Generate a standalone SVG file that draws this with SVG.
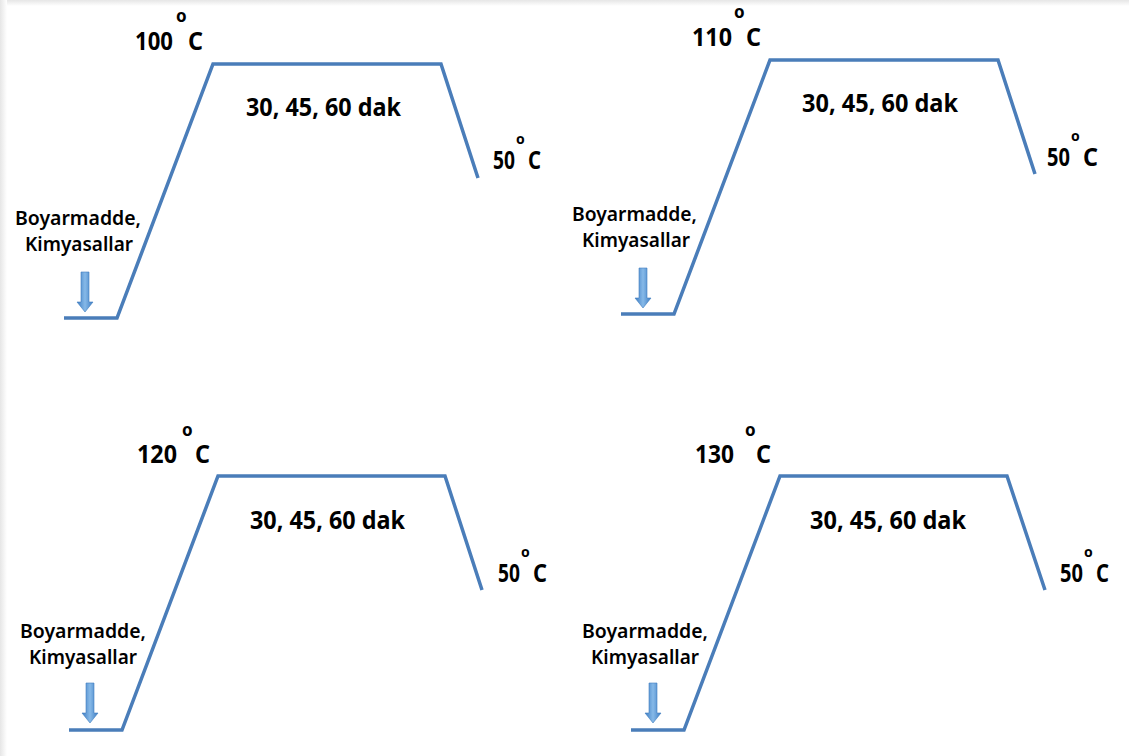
<svg xmlns="http://www.w3.org/2000/svg" width="1129" height="756" viewBox="0 0 1129 756">
  <style>
    .curve { fill: none; stroke: #4a7db9; stroke-width: 3.5; stroke-linejoin: miter; stroke-linecap: butt; }
    .t { font-family: "Noto Sans", "Open Sans", "Liberation Sans", sans-serif; font-weight: 700; fill: #000000; }
    .temp { font-size: 25px; }
    .deg { font-size: 17px; }
    .deg-s { font-size: 14px; }
    .time { font-size: 25px; }
    .add { font-size: 20px; font-weight: 600; }
  </style>
  <defs>
    <linearGradient id="arrowFill" x1="0" y1="0" x2="1" y2="0">
      <stop offset="0" stop-color="#3d7cc2"/>
      <stop offset="0.5" stop-color="#86b9e8"/>
      <stop offset="1" stop-color="#3d7cc2"/>
    </linearGradient>
    <linearGradient id="edgeTop" x1="0" y1="0" x2="0" y2="1">
      <stop offset="0" stop-color="#e6e6e6"/>
      <stop offset="1" stop-color="#ffffff"/>
    </linearGradient>
    <linearGradient id="edgeLeft" x1="0" y1="0" x2="1" y2="0">
      <stop offset="0" stop-color="#e6e6e6"/>
      <stop offset="1" stop-color="#ffffff"/>
    </linearGradient>
    <!-- dosing arrow, tip at (0,0) -->
    <path id="dose" d="M -4 -40 L 4 -40 L 4 -10 L 8 -10 L 0 0 L -8 -10 L -4 -10 Z" fill="url(#arrowFill)" stroke="#3f7dc0" stroke-width="0.6"/>
  </defs>

  <rect x="0" y="0" width="1129" height="756" fill="#ffffff"/>
  <rect x="0" y="0" width="1129" height="6" fill="url(#edgeTop)"/>
  <rect x="0" y="0" width="7" height="756" fill="url(#edgeLeft)"/>

  <!-- temperature profiles -->
  <g id="connectors">
    <path class="curve" d="M 64 318 L 117 318 L 213 64 L 441 64 L 478 178"/>
    <path class="curve" d="M 621 314 L 674 314 L 770 60 L 998 60 L 1035 174"/>
    <path class="curve" d="M 69 730 L 122 730 L 218 476 L 445 476 L 482 590"/>
    <path class="curve" d="M 631 730 L 684 730 L 780 476 L 1007 476 L 1045 590"/>
    <use href="#dose" x="85" y="312"/>
    <use href="#dose" x="643" y="308"/>
    <use href="#dose" x="90" y="723"/>
    <use href="#dose" x="653" y="723"/>
  </g>

  <!-- 100 °C -->
  <g id="panel-100">
    <text class="t temp"><tspan x="135" y="50" textLength="38" lengthAdjust="spacingAndGlyphs">100</tspan><tspan class="deg" x="176" y="22">o</tspan><tspan x="188" y="50" textLength="15" lengthAdjust="spacingAndGlyphs">C</tspan></text>
    <text class="t time" x="246" y="116" textLength="155" lengthAdjust="spacingAndGlyphs">30, 45, 60 dak</text>
    <text class="t temp"><tspan x="493" y="169" textLength="22" lengthAdjust="spacingAndGlyphs">50</tspan><tspan class="deg-s" x="516" y="144">o</tspan><tspan x="528" y="169" textLength="13" lengthAdjust="spacingAndGlyphs">C</tspan></text>
    <text class="t add" x="15" y="225" textLength="126" lengthAdjust="spacingAndGlyphs">Boyarmadde,</text>
    <text class="t add" x="25" y="251" textLength="108" lengthAdjust="spacingAndGlyphs">Kimyasallar</text>
  </g>

  <!-- 110 °C -->
  <g id="panel-110">
    <text class="t temp"><tspan x="692" y="46" textLength="40" lengthAdjust="spacingAndGlyphs">110</tspan><tspan class="deg" x="734" y="18">o</tspan><tspan x="746" y="46" textLength="15" lengthAdjust="spacingAndGlyphs">C</tspan></text>
    <text class="t time" x="802" y="112" textLength="156" lengthAdjust="spacingAndGlyphs">30, 45, 60 dak</text>
    <text class="t temp"><tspan x="1047" y="166" textLength="23" lengthAdjust="spacingAndGlyphs">50</tspan><tspan class="deg-s" x="1071" y="141">o</tspan><tspan x="1083" y="166" textLength="15" lengthAdjust="spacingAndGlyphs">C</tspan></text>
    <text class="t add" x="572" y="221" textLength="125" lengthAdjust="spacingAndGlyphs">Boyarmadde,</text>
    <text class="t add" x="582" y="247" textLength="108" lengthAdjust="spacingAndGlyphs">Kimyasallar</text>
  </g>

  <!-- 120 °C -->
  <g id="panel-120">
    <text class="t temp"><tspan x="137" y="463" textLength="40" lengthAdjust="spacingAndGlyphs">120</tspan><tspan class="deg" x="182" y="436">o</tspan><tspan x="195" y="463" textLength="15" lengthAdjust="spacingAndGlyphs">C</tspan></text>
    <text class="t time" x="250" y="529" textLength="155" lengthAdjust="spacingAndGlyphs">30, 45, 60 dak</text>
    <text class="t temp"><tspan x="498" y="582" textLength="22" lengthAdjust="spacingAndGlyphs">50</tspan><tspan class="deg-s" x="521" y="557">o</tspan><tspan x="533" y="582" textLength="14" lengthAdjust="spacingAndGlyphs">C</tspan></text>
    <text class="t add" x="20" y="638" textLength="126" lengthAdjust="spacingAndGlyphs">Boyarmadde,</text>
    <text class="t add" x="29" y="664" textLength="108" lengthAdjust="spacingAndGlyphs">Kimyasallar</text>
  </g>

  <!-- 130 °C -->
  <g id="panel-130">
    <text class="t temp"><tspan x="695" y="463" textLength="39" lengthAdjust="spacingAndGlyphs">130</tspan><tspan class="deg" x="745" y="436">o</tspan><tspan x="756" y="463" textLength="15" lengthAdjust="spacingAndGlyphs">C</tspan></text>
    <text class="t time" x="810" y="529" textLength="156" lengthAdjust="spacingAndGlyphs">30, 45, 60 dak</text>
    <text class="t temp"><tspan x="1060" y="582" textLength="23" lengthAdjust="spacingAndGlyphs">50</tspan><tspan class="deg-s" x="1084" y="557">o</tspan><tspan x="1096" y="582" textLength="13" lengthAdjust="spacingAndGlyphs">C</tspan></text>
    <text class="t add" x="582" y="638" textLength="126" lengthAdjust="spacingAndGlyphs">Boyarmadde,</text>
    <text class="t add" x="591" y="664" textLength="108" lengthAdjust="spacingAndGlyphs">Kimyasallar</text>
  </g>
</svg>
